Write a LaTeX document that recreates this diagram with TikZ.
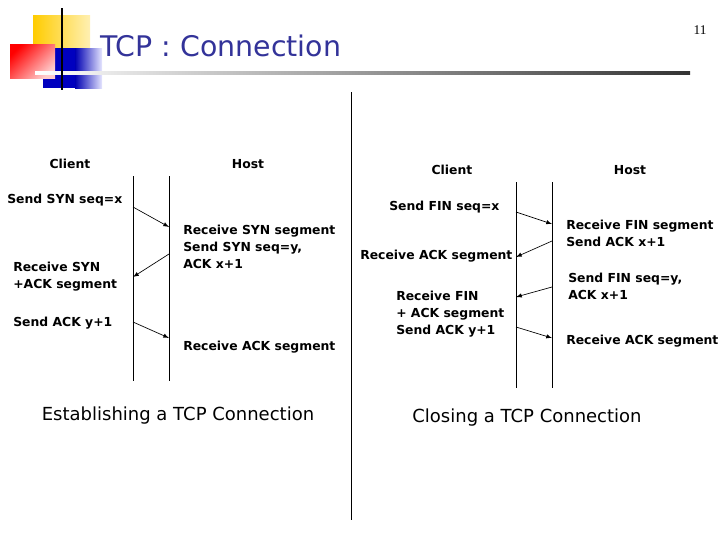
\documentclass[tikz,border=0pt]{standalone}
\usepackage{fontspec}
\setmainfont{DejaVu Sans}
\newfontfamily\pgnum{Liberation Serif}
\definecolor{ttl}{RGB}{51,51,153}
\definecolor{gold}{RGB}{255,204,0}
\begin{document}
\begin{tikzpicture}[x=0.75pt,y=-0.75pt,
  lbl/.style={font=\bfseries\fontsize{9.3}{12.75}\selectfont,inner sep=0pt,align=left,anchor=west},
  hd/.style={font=\bfseries\fontsize{9.3}{11}\selectfont,inner sep=0pt},
  captxt/.style={font=\fontsize{13.5}{16}\selectfont,inner sep=0pt},
  tl/.style={line width=0.75pt},
  msg/.style={-latex,line width=0.5pt}]
\useasboundingbox (0,0) rectangle (728,546);
% logo
\shade[left color=gold,right color=gold!30] (33,15) rectangle (90,70);
\fill[blue!75!black] (43,48) rectangle (75,88);
\shade[left color=blue!70!black,right color=blue!10] (75,48) rectangle (102,88);
\shade[left color=red,right color=red!20,shading angle=45] (10,44) rectangle (55,78);
\shade[left color=white,right color=black!80] (35,71) rectangle (690,74);
\draw[line width=1.2pt] (62,8) -- (62,90);
\node[anchor=west,inner sep=0pt,text=ttl,font=\fontsize{21.3}{24}\selectfont] (title) at (100,46) {TCP : Connection};
\node[inner sep=0pt,font=\pgnum\fontsize{10}{12}\selectfont] (pg) at (700,30) {11};
\draw[line width=0.75pt] (351,92) -- (351,520);
% left
\node[hd] (lc) at (70,164) {Client};
\node[hd] (lh) at (248,164) {Host};
\coordinate (l1t) at (133,176); \coordinate (l1b) at (133,381);
\coordinate (l2t) at (169,176); \coordinate (l2b) at (169,381);
\draw[tl] (l1t) -- (l1b); \draw[tl] (l2t) -- (l2b);
\coordinate (a1) at (133,207); \coordinate (b1) at (169,227);
\coordinate (a2) at (169,254); \coordinate (b2) at (133,277);
\coordinate (a3) at (133,322); \coordinate (b3) at (169,338);
\draw[msg] (a1) -- (b1); \draw[msg] (a2) -- (b2); \draw[msg] (a3) -- (b3);
\node[lbl] (t1) at (7,200) {Send SYN seq=x};
\node[lbl,anchor=north west] (t2) at (183,225) {Receive SYN segment\\Send SYN seq=y,\\ACK x+1};
\node[lbl,anchor=north west] (t3) at (13,262) {Receive SYN\\+ACK segment};
\node[lbl] (t4) at (13,323) {Send ACK y+1};
\node[lbl] (t5) at (183,347) {Receive ACK segment};
\node[captxt] (c1) at (178,416) {Establishing a TCP Connection};
% right
\node[hd] (rc) at (452,170) {Client};
\node[hd] (rh) at (630,170) {Host};
\coordinate (r1t) at (516,182); \coordinate (r1b) at (516,388);
\coordinate (r2t) at (552,182); \coordinate (r2b) at (552,388);
\draw[tl] (r1t) -- (r1b); \draw[tl] (r2t) -- (r2b);
\coordinate (c1a) at (516,212); \coordinate (c1b) at (552,224);
\coordinate (c2a) at (552,241); \coordinate (c2b) at (516,257);
\coordinate (c3a) at (552,287); \coordinate (c3b) at (516,297);
\coordinate (c4a) at (516,327); \coordinate (c4b) at (552,338);
\draw[msg] (c1a) -- (c1b); \draw[msg] (c2a) -- (c2b);
\draw[msg] (c3a) -- (c3b); \draw[msg] (c4a) -- (c4b);
\node[lbl] (s1) at (389,207) {Send FIN seq=x};
\node[lbl,anchor=north west] (s2) at (566,220) {Receive FIN segment\\Send ACK x+1};
\node[lbl] (s3) at (360,256) {Receive ACK segment};
\node[lbl,anchor=north west] (s4) at (568,273) {Send FIN seq=y,\\ACK x+1};
\node[lbl,anchor=north west] (s5) at (396,291) {Receive FIN\\+ ACK segment\\Send ACK y+1};
\node[lbl] (s6) at (566,341) {Receive ACK segment};
\node[captxt] (c2) at (527,418) {Closing a TCP Connection};
\end{tikzpicture}
\end{document}
